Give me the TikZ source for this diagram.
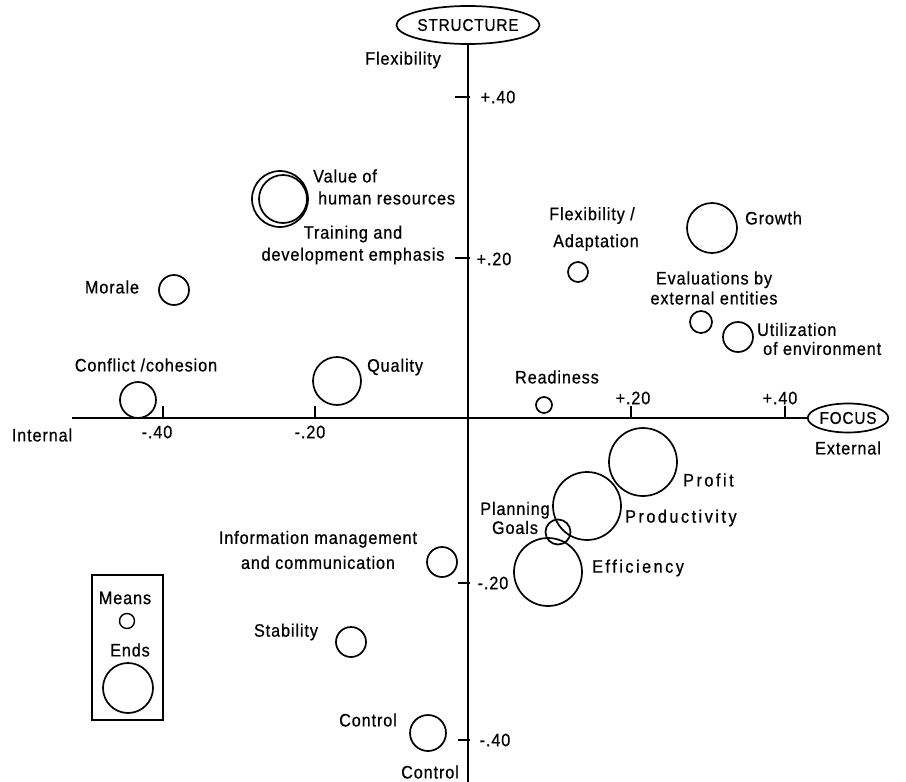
\documentclass[tikz,border=0pt]{standalone}
\usepackage{fontspec}
\setmainfont{Liberation Sans}[FakeStretch=0.9, LetterSpace=5, FakeBold=0.6]
\usetikzlibrary{shapes.geometric}
\tikzset{
  lbl/.style={inner sep=0pt, font=\fontsize{18}{22}\selectfont},
  widelbl/.style={inner sep=0pt, font=\fontsize{18}{22}\selectfont\addfontfeatures{LetterSpace=14}},
  bub/.style={circle, draw, line width=1.7pt, inner sep=0pt},
  axis/.style={line width=1.7pt},
  tick/.style={line width=1.7pt},
  oval/.style={ellipse, draw, line width=1.7pt, inner sep=0pt, font=\fontsize{17}{20}\selectfont}
}
\begin{document}
\begin{tikzpicture}[x=1pt,y=-1pt]
\useasboundingbox[fill=white] (0,0) rectangle (906,782);
% axis end labels
\node[oval, minimum width=117pt, minimum height=38pt] (structure) at (468,25) {STRUCTURE};
\node[oval, minimum width=77pt, minimum height=29pt] (focus) at (848,418) {FOCUS};
\coordinate (vbot) at (471,782);
\coordinate (hleft) at (72,418);
\draw[axis] (structure.south) -- (structure.south |- vbot);
\draw[axis] (hleft) -- (focus.west);
% ticks on vertical axis
\coordinate (tv1a) at (455,97);  \coordinate (tv1b) at (470,97);
\coordinate (tv2a) at (455,258); \coordinate (tv2b) at (470,258);
\coordinate (tv3a) at (458,583); \coordinate (tv3b) at (470,583);
\coordinate (tv4a) at (458,740); \coordinate (tv4b) at (470,740);
\draw[tick] (tv1a) -- (tv1b);
\draw[tick] (tv2a) -- (tv2b);
\draw[tick] (tv3a) -- (tv3b);
\draw[tick] (tv4a) -- (tv4b);
% ticks on horizontal axis
\coordinate (th1a) at (163,406); \coordinate (th1b) at (163,418);
\coordinate (th2a) at (315,406); \coordinate (th2b) at (315,418);
\coordinate (th3a) at (631,406); \coordinate (th3b) at (631,418);
\coordinate (th4a) at (785,406); \coordinate (th4b) at (785,418);
\draw[tick] (th1a) -- (th1b);
\draw[tick] (th2a) -- (th2b);
\draw[tick] (th3a) -- (th3b);
\draw[tick] (th4a) -- (th4b);
% axis labels
\node[lbl] (flexlab) at (403,60) {Flexibility};
\node[lbl] (vp40) at (498,97) {+.40};
\node[lbl] (vp20) at (494,259) {+.20};
\node[lbl] (vm20) at (493,583) {-.20};
\node[lbl] (vm40) at (495,740) {-.40};
\node[lbl] (internal) at (42,435) {Internal};
\node[lbl] (hm40) at (157,432) {-.40};
\node[lbl] (hm20) at (310,432) {-.20};
\node[lbl] (hp20) at (633,398) {+.20};
\node[lbl] (hp40) at (780,398) {+.40};
\node[lbl] (external) at (848,448) {External};
\node[lbl] (controlbot) at (430,772) {Control};
% bubbles
\node[bub, minimum size=56pt] (vhr) at (280,199) {};
\node[bub, minimum size=48pt] (vhrb) at (283,199) {};
\node[bub, minimum size=20pt] (flex) at (578,272) {};
\node[bub, minimum size=50pt] (growth) at (712,228) {};
\node[bub, minimum size=22pt] (eval) at (701,322) {};
\node[bub, minimum size=30pt] (util) at (738,337) {};
\node[bub, minimum size=30pt] (morale) at (174,290) {};
\node[bub, minimum size=36pt] (conflict) at (138,400) {};
\node[bub, minimum size=48pt] (quality) at (337,381) {};
\node[bub, minimum size=16pt] (ready) at (544,405) {};
\node[bub, minimum size=68pt] (profit) at (643,462) {};
\node[bub, minimum size=68pt] (prod) at (587,506) {};
\node[bub, minimum size=25pt] (plan) at (558,532) {};
\node[bub, minimum size=68pt] (eff) at (548,572) {};
\node[bub, minimum size=30pt] (info) at (442,562) {};
\node[bub, minimum size=30pt] (stab) at (351,642) {};
\node[bub, minimum size=36pt] (control) at (428,733) {};
% bubble labels
\node[lbl, anchor=west, align=left] (vhrlab) at (313,187) {Value of\\\hspace{5pt}human resources};
\node[lbl, align=center] (trainlab) at (353,245) {Training and\\development emphasis};
\node[lbl, align=center, font=\fontsize{18}{27}\selectfont] (flexadlab) at (592,229) {Flexibility /\\\hspace{8pt}Adaptation};
\node[lbl, anchor=west] (growthlab) at (745,218) {Growth};
\node[lbl, align=center, font=\fontsize{18}{20}\selectfont] (evallab) at (714,288) {Evaluations by\\external entities};
\node[lbl, anchor=west, align=left, font=\fontsize{18}{19}\selectfont] (utillab) at (757,339) {Utilization\\\hspace{6pt}of environment};
\node[lbl] (moralelab) at (112,287) {Morale};
\node[lbl] (conflictlab) at (146,365) {Conflict /cohesion};
\node[lbl, anchor=west] (qualitylab) at (367,367) {Quality};
\node[lbl] (readylab) at (557,377) {Readiness};
\node[widelbl, anchor=west] (profitlab) at (683,480) {Profit};
\node[widelbl, anchor=west] (prodlab) at (625,518) {Productivity};
\node[lbl, align=center, font=\fontsize{18}{19}\selectfont] (planlab) at (515,518) {Planning\\Goals};
\node[widelbl, anchor=west] (efflab) at (592,568) {Efficiency};
\node[lbl, align=center, font=\fontsize{18}{25}\selectfont] (infolab) at (318,550) {Information management\\and communication};
\node[lbl] (stablab) at (286,632) {Stability};
\node[lbl] (controllab) at (368,720) {Control};
% legend
\node[draw, line width=1.7pt, minimum width=71pt, minimum height=145pt, inner sep=0pt] (legend) at (127.5,647.5) {};
\node[lbl] (meanslab) at (125,598) {Means};
\node[bub, minimum size=15pt, line width=1.4pt] (meansc) at (127,621) {};
\node[lbl] (endslab) at (130,650) {Ends};
\node[bub, minimum size=50pt] (endsc) at (128,688) {};
\end{tikzpicture}
\end{document}
